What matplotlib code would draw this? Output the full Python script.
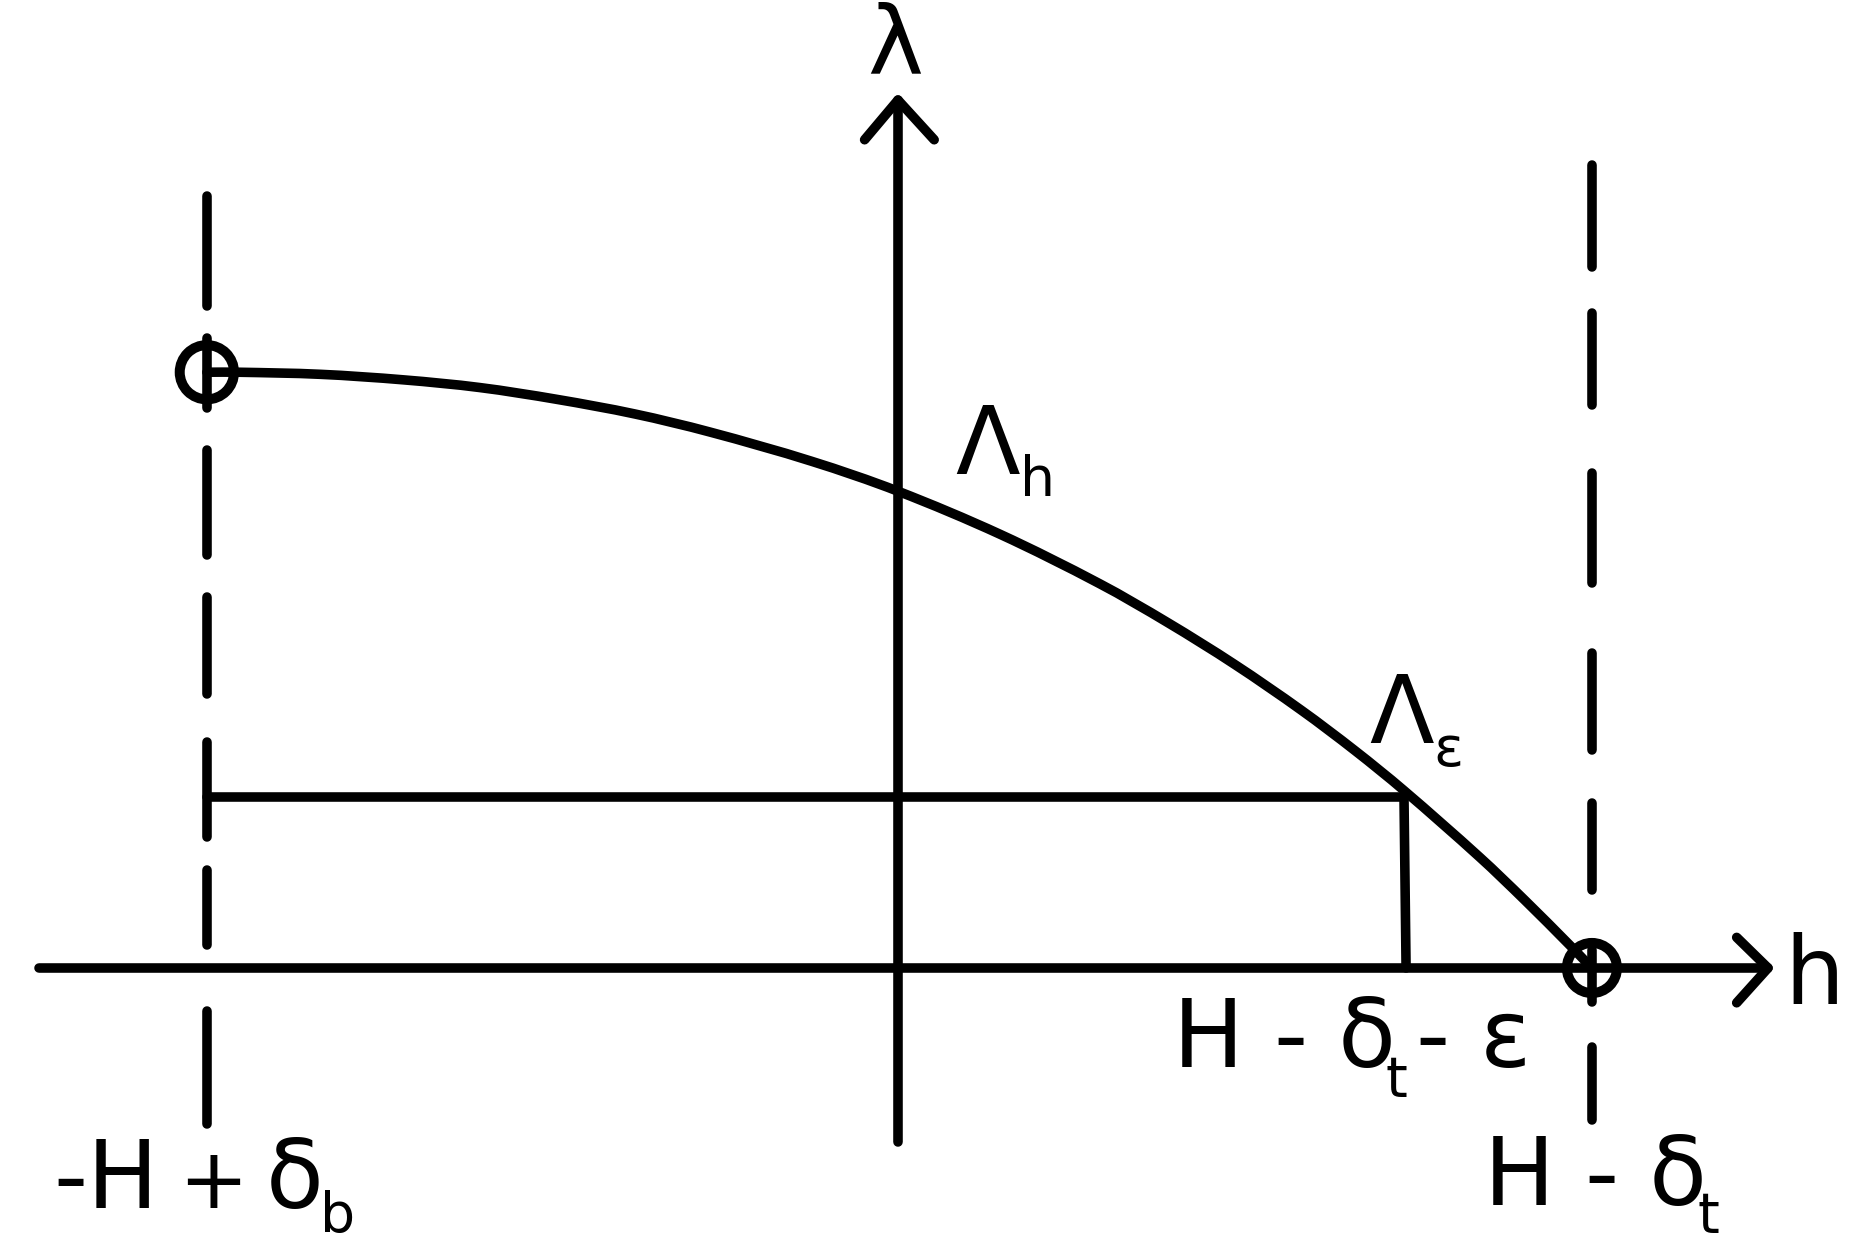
import matplotlib
matplotlib.use("Agg")
import matplotlib.pyplot as plt
from matplotlib.patches import Circle, PathPatch
from matplotlib.path import Path

# ---------------- data (diagram units: H - delta_t = 1) ----------------
# curve Lambda(h)
curve_h = [-0.993, -0.948, -0.830, -0.710, -0.601, -0.490, -0.378, -0.270,
           -0.124, 0.000, 0.147, 0.290, 0.388, 0.484, 0.580, 0.657,
           0.727, 0.836, 0.901, 0.966, 0.994]
curve_lam = [0.856, 0.856, 0.853, 0.845, 0.834, 0.817, 0.796, 0.770,
             0.728, 0.685, 0.623, 0.552, 0.496, 0.436, 0.370, 0.312,
             0.255, 0.159, 0.097, 0.032, 0.003]

h_left = -0.993      # -H + delta_b
h_right = 0.997      # H - delta_t
h_eps = 0.727        # H - delta_t - eps
lam_eps = 0.245      # Lambda_eps
lam_left = 0.856     # Lambda at -H + delta_b

# dash segments of the two vertical boundary lines (lambda ranges)
left_dashes = [(1.109, 0.951), (0.905, 0.805), (0.744, 0.593), (0.533, 0.394),
               (0.325, 0.188), (0.141, 0.033), (-0.062, -0.224)]
right_dashes = [(1.154, 1.007), (0.941, 0.809), (0.711, 0.553), (0.453, 0.313),
                (0.237, 0.112), (0.026, -0.049), (-0.114, -0.218)]

# axes extents
h_axis = (-1.234, 1.250)
lam_axis = (-0.250, 1.247)

# ---------------- figure ----------------
fig = plt.figure(figsize=(18.6, 12.45), dpi=100)
fig.patch.set_facecolor("white")
ax = fig.add_axes([0, 0, 1, 1])
ax.set_xlim(-898 / 696, (1860 - 898) / 696)
ax.set_ylim((968 - 1245) / 696, 968 / 696)
ax.axis("off")

LW = 6.9
kw = dict(color="black", lw=LW, solid_capstyle="round", solid_joinstyle="round")

# axes with open arrowheads
ax.plot([h_axis[0], h_axis[1]], [0, 0], **kw)
ax.plot([h_axis[1] - 0.045, h_axis[1], h_axis[1] - 0.045], [0.044, 0, -0.050], **kw)
ax.plot([0, 0], [lam_axis[0], lam_axis[1]], **kw)
ax.plot([-0.048, 0, 0.052], [lam_axis[1] - 0.057, lam_axis[1], lam_axis[1] - 0.057], **kw)

# dashed boundaries
for a, b in left_dashes:
    ax.plot([h_left, h_left], [a, b], **kw)
for a, b in right_dashes:
    ax.plot([h_right, h_right], [a, b], **kw)

# curve: smooth cubic Hermite path through the read points
n = len(curve_h)
slopes = []
for i in range(n):
    if i == 0:
        slopes.append(0.0)
    elif i == n - 1:
        slopes.append((curve_lam[i] - curve_lam[i - 1]) / (curve_h[i] - curve_h[i - 1]))
    else:
        slopes.append((curve_lam[i + 1] - curve_lam[i - 1]) / (curve_h[i + 1] - curve_h[i - 1]))
verts = [(curve_h[0], curve_lam[0])]
codes = [Path.MOVETO]
for i in range(n - 1):
    d = curve_h[i + 1] - curve_h[i]
    c1 = (curve_h[i] + d / 3, curve_lam[i] + slopes[i] * d / 3)
    c2 = (curve_h[i + 1] - d / 3, curve_lam[i + 1] - slopes[i + 1] * d / 3)
    verts += [c1, c2, (curve_h[i + 1], curve_lam[i + 1])]
    codes += [Path.CURVE4] * 3
ax.add_patch(PathPatch(Path(verts, codes), fill=False, ec="black", lw=LW,
                       capstyle="round", joinstyle="round"))

# epsilon construction
ax.plot([h_left, h_eps], [lam_eps, lam_eps], **kw)
ax.plot([h_eps, h_eps + 0.003], [lam_eps, 0], **kw)

# circles at the end points
ax.add_patch(Circle((h_left, lam_left), 0.039, fill=False, ec="black", lw=7.2))
ax.add_patch(Circle((h_right, 0.0), 0.036, fill=False, ec="black", lw=7.2))

# ---------------- text ----------------
BIG = 68
SMALL = 40
tk = dict(color="black", family="DejaVu Sans", va="baseline", ha="left")

ax.text(-0.004, 1.286, "λ", fontsize=BIG, **{**tk, "ha": "center"})
ax.text(1.273, -0.052, "h", fontsize=BIG, **tk)

ax.text(0.082, 0.710, "Λ", fontsize=BIG, **tk)
ax.text(0.175, 0.678, "h", fontsize=SMALL, **tk)

ax.text(0.677, 0.323, "Λ", fontsize=BIG, **tk)
ax.text(0.769, 0.290, "ε", fontsize=SMALL, **tk)

ax.text(0.395, -0.142, "H - δ", fontsize=BIG, **tk)
ax.text(0.700, -0.184, "t", fontsize=SMALL, **tk)
ax.text(0.744, -0.142, "- ε", fontsize=BIG, **tk)

ax.text(-1.213, -0.345, "-H", fontsize=BIG, **tk)
ax.text(-0.984, -0.345, "+", fontsize=60, **{**tk, "ha": "center"})
ax.text(-0.909, -0.345, "δ", fontsize=BIG, **tk)
ax.text(-0.830, -0.379, "b", fontsize=SMALL, **tk)

ax.text(0.842, -0.341, "H - δ", fontsize=BIG, **tk)
ax.text(1.149, -0.379, "t", fontsize=SMALL, **tk)

fig.savefig("out.png", dpi=100, facecolor="white")
